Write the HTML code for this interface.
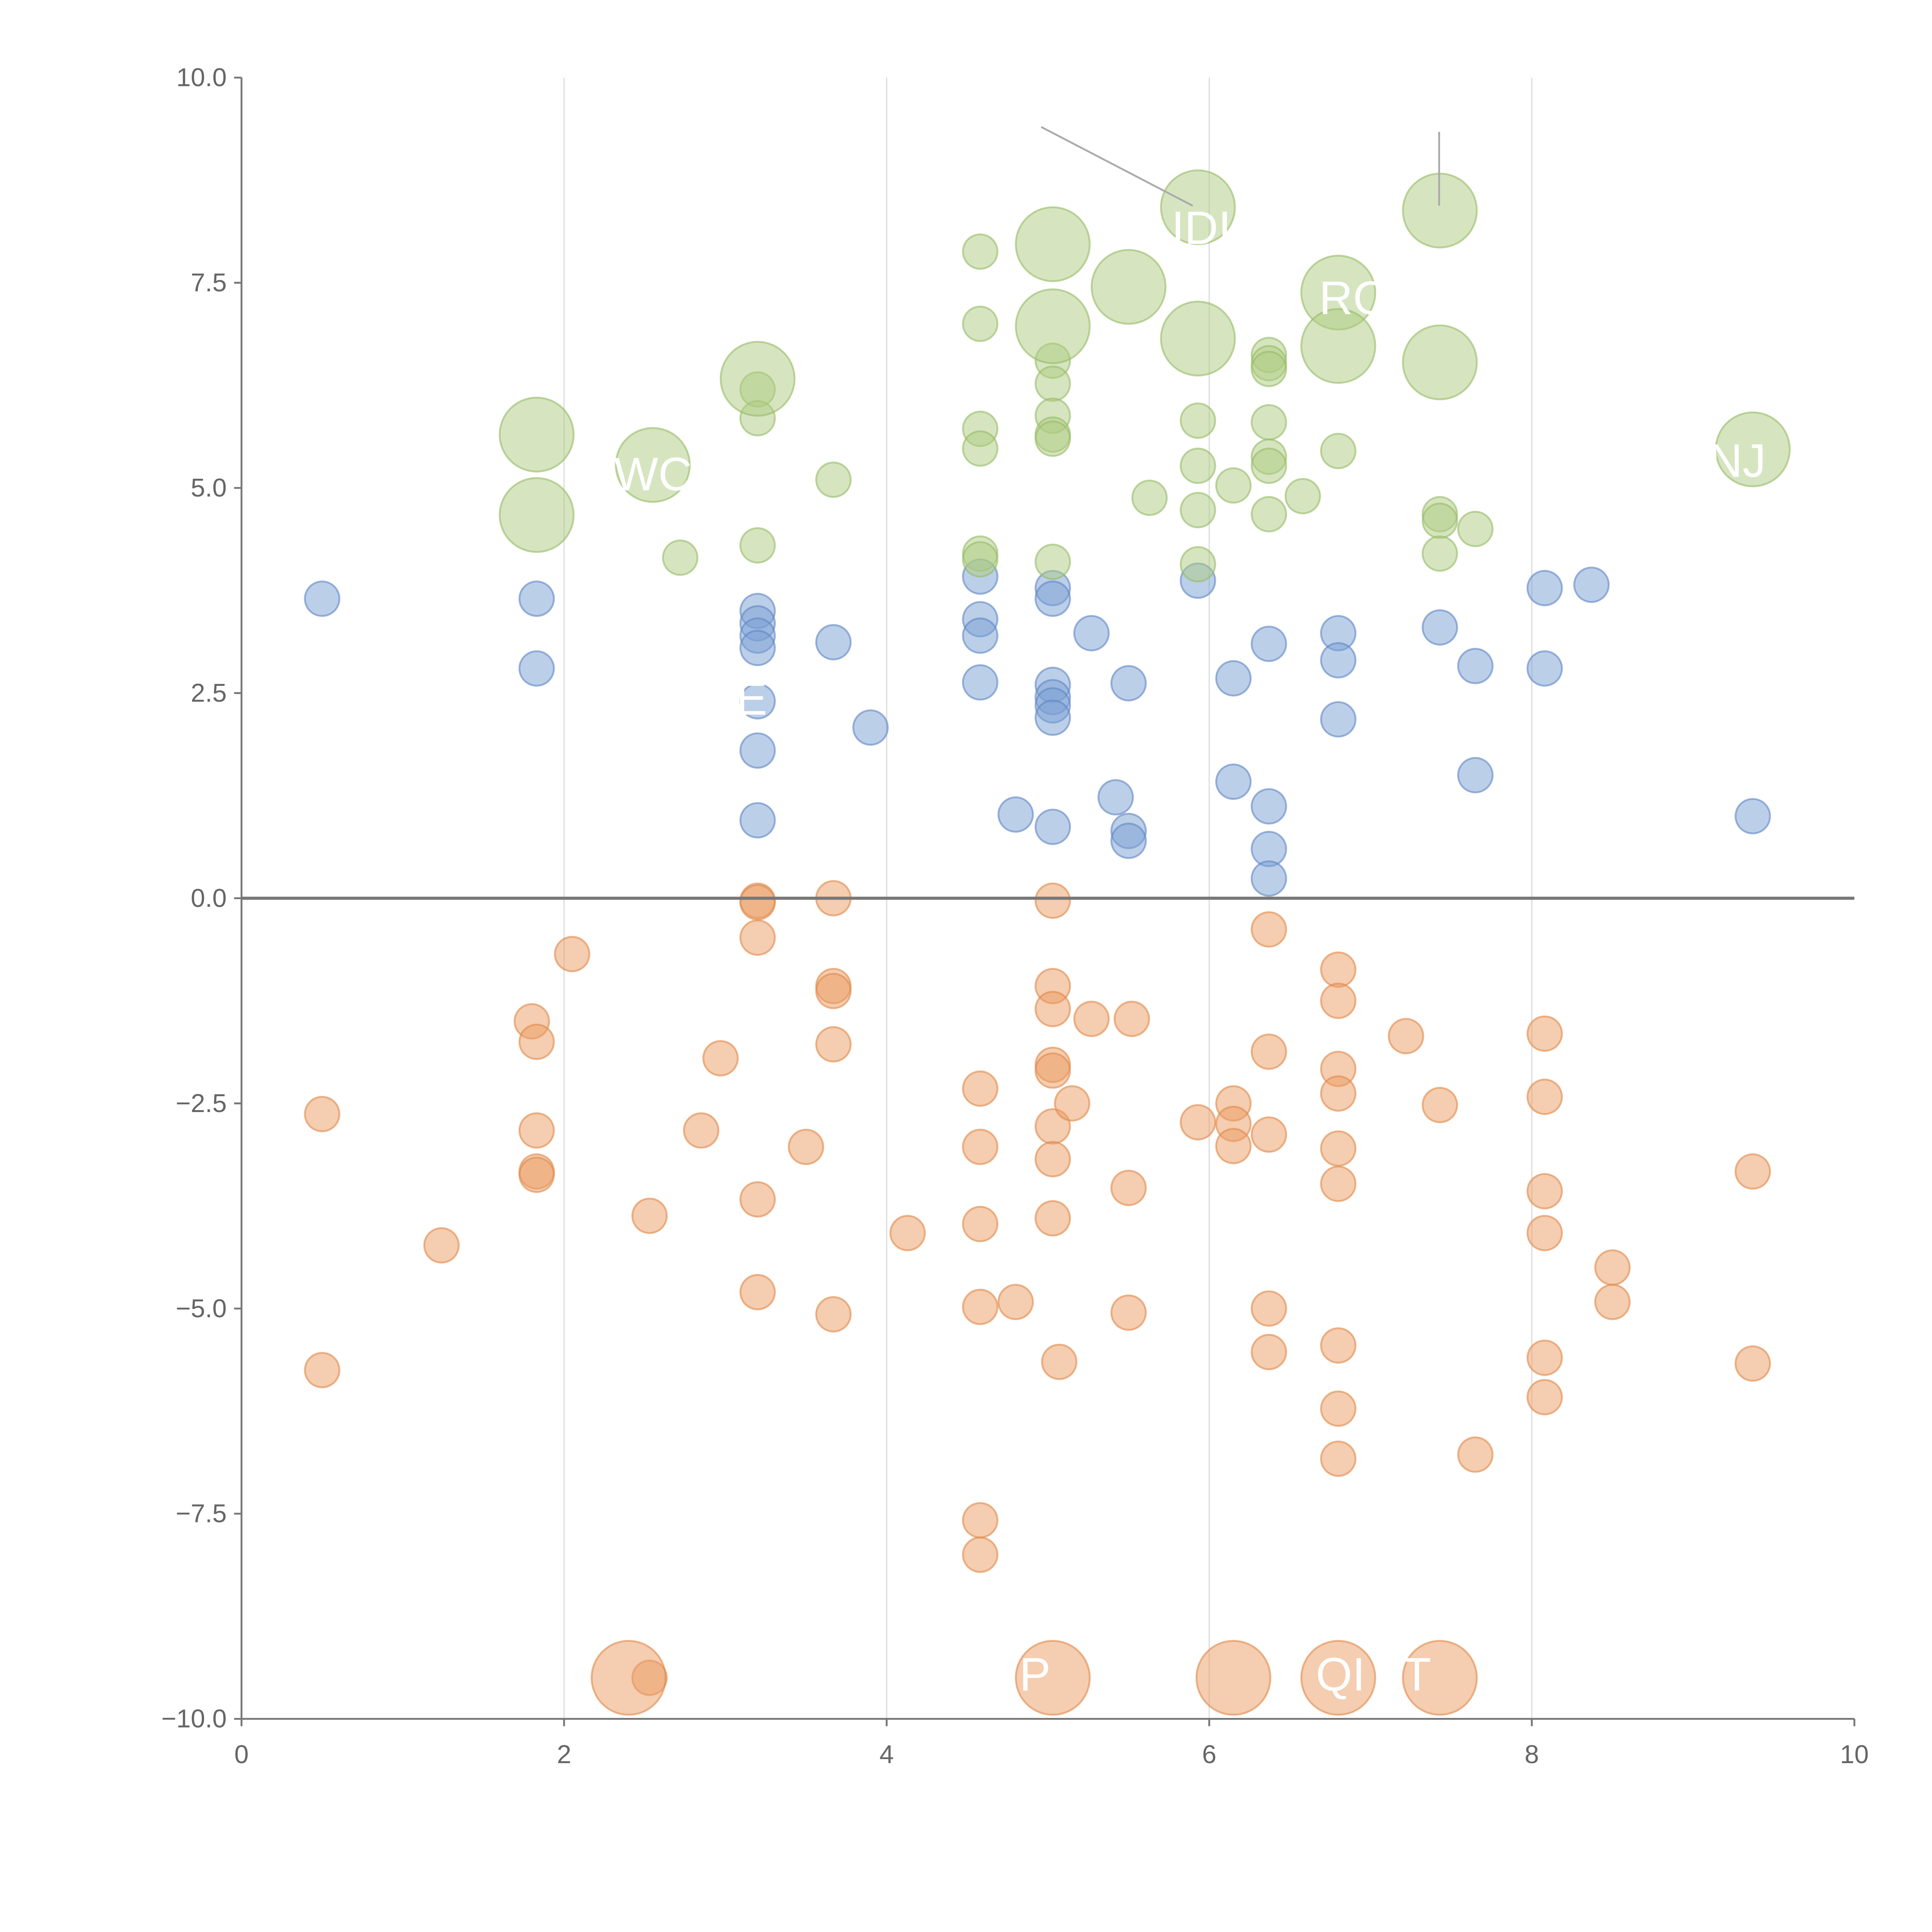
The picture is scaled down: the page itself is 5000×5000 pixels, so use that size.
<!DOCTYPE html>
<html><head><meta charset="utf-8"><style>
html,body{margin:0;padding:0;background:#fff;}
svg{display:block;font-family:"Liberation Sans",sans-serif;}
</style></head><body>
<svg id="chart" width="5000" height="5000" viewBox="0 0 1568 1568" xmlns="http://www.w3.org/2000/svg">
<g id="grid"></g>
<g id="marks"></g>
<g id="axes"></g>
<g id="annot"></g>
</svg>
<script>
const xTicks=[0,2,4,6,8,10];
const yTicks=[10,7.5,5,2.5,0,-2.5,-5,-7.5,-10];
const blueX=[0.5,1.83,1.83,3.2,3.2,3.2,3.2,3.2,3.2,3.2,3.67,3.9,4.58,4.58,4.58,4.58,4.8,5.03,5.03,5.03,5.03,5.03,5.03,5.03,5.27,5.42,5.5,5.5,5.5,5.93,6.15,6.15,6.37,6.37,6.37,6.37,6.8,6.8,6.8,7.43,7.65,7.65,8.08,8.08,8.37,9.37];
const blueY=[3.65,3.65,2.8,3.5,3.35,3.2,3.05,2.4,1.8,0.95,3.12,2.08,3.92,3.4,3.2,2.63,1.02,3.78,3.65,2.6,2.45,2.35,2.2,0.87,3.23,1.23,2.62,0.82,0.7,3.87,2.68,1.42,3.1,1.12,0.6,0.24,3.23,2.9,2.18,3.3,2.83,1.5,3.78,2.8,3.82,1.0];
const orangeX=[0.5,0.5,1.24,1.8,1.83,1.83,1.83,1.83,2.05,2.53,2.85,2.97,3.2,3.2,3.2,3.2,3.2,3.5,3.67,3.67,3.67,3.67,3.67,4.13,4.58,4.58,4.58,4.58,4.58,4.58,4.8,5.03,5.03,5.03,5.03,5.03,5.03,5.03,5.03,5.07,5.15,5.27,5.5,5.5,5.52,5.93,6.15,6.15,6.15,6.37,6.37,6.37,6.37,6.37,6.8,6.8,6.8,6.8,6.8,6.8,6.8,6.8,6.8,7.22,7.43,7.65,8.08,8.08,8.08,8.08,8.08,8.08,8.5,8.5,9.37,9.37,2.53];
const orangeY=[-2.63,-5.75,-4.23,-1.5,-1.75,-2.83,-3.33,-3.37,-0.68,-3.87,-2.83,-1.95,-0.03,-0.05,-0.48,-3.67,-4.8,-3.03,0,-1.07,-1.13,-1.78,-5.07,-4.08,-2.32,-3.03,-3.97,-4.98,-7.58,-8.0,-4.92,-0.03,-1.07,-1.35,-2.03,-2.1,-2.78,-3.18,-3.9,-5.65,-2.5,-1.47,-3.53,-5.05,-1.47,-2.73,-2.5,-2.75,-3.02,-0.38,-1.87,-2.88,-5.0,-5.53,-0.87,-1.25,-2.08,-2.38,-3.05,-3.48,-5.45,-6.22,-6.83,-1.68,-2.52,-6.78,-1.65,-2.42,-3.57,-4.08,-5.6,-6.08,-4.5,-4.92,-3.33,-5.67,-9.5];
const orangeBigX=[2.4,5.03,6.15,6.8,7.43];
const orangeBigY=[-9.5,-9.5,-9.5,-9.5,-9.5];
const greenX=[2.72,3.2,3.2,3.2,3.67,4.58,4.58,4.58,4.58,4.58,4.58,5.03,5.03,5.03,5.03,5.03,5.03,5.63,5.93,5.93,5.93,5.93,6.15,6.37,6.37,6.37,6.37,6.37,6.37,6.37,6.58,6.8,7.43,7.43,7.43,7.65];
const greenY=[4.15,6.2,5.85,4.3,5.1,7.88,7.0,5.72,5.48,4.2,4.13,6.55,6.27,5.88,5.65,5.6,4.1,4.88,5.82,5.27,4.73,4.07,5.03,6.62,6.52,6.45,5.8,5.38,5.27,4.68,4.9,5.45,4.68,4.6,4.2,4.5];
const greenBigX=[1.83,1.83,2.55,3.2,5.03,5.03,5.5,5.93,5.93,6.8,6.8,7.43,7.43,9.37];
const greenBigY=[5.65,4.67,5.28,6.33,7.97,6.97,7.45,8.42,6.82,7.38,6.73,8.38,6.53,5.47];

const X0=196,X1=1505,Y0=1395,Y1=63;
const sx=v=>X0+(v/10)*(X1-X0);
const sy=v=>Y0-((v+10)/20)*(Y0-Y1);
const NS="http://www.w3.org/2000/svg";
function mk(tag,attrs,parent){const e=document.createElementNS(NS,tag);for(const k in attrs)e.setAttribute(k,attrs[k]);parent.appendChild(e);return e;}
const grid=document.getElementById('grid'),marks=document.getElementById('marks'),axes=document.getElementById('axes'),annot=document.getElementById('annot');

[2,4,6,8].forEach(v=>{const l=mk('line',{x1:sx(v),x2:sx(v),y1:Y1,y2:Y0,stroke:'#ddd','stroke-width':1},grid);

});

function draw(xs,ys,r,fill,stroke,name){xs.forEach((x,i)=>{const c=mk('circle',{cx:sx(x),cy:sy(ys[i]),r:r,fill:fill,'fill-opacity':0.5,stroke:stroke,'stroke-opacity':0.6,'stroke-width':1.5},marks);

});}
draw(blueX,blueY,14,'#7a9fd4','#5f86c4','blue-point');
draw(orangeX,orangeY,14,'#eb9c62','#e0884a','orange-point');
draw(greenX,greenY,14,'#adcc82','#96bb66','green-point');
draw(greenBigX,greenBigY,30,'#adcc82','#96bb66','green-bubble');
draw(orangeBigX,orangeBigY,30,'#eb9c62','#e0884a','orange-bubble');

const zl=mk('line',{x1:X0,x2:X1,y1:sy(0),y2:sy(0),stroke:'#777','stroke-width':2.5},axes);


const ya=mk('line',{x1:X0,x2:X0,y1:Y1,y2:Y0,stroke:'#777','stroke-width':1.5},axes);


const xa=mk('line',{x1:X0,x2:X1,y1:Y0,y2:Y0,stroke:'#777','stroke-width':1.5},axes);


xTicks.forEach(v=>{mk('line',{x1:sx(v),x2:sx(v),y1:Y0,y2:Y0+6,stroke:'#777','stroke-width':1.5},axes);
const t=mk('text',{x:sx(v),y:Y0+36,'text-anchor':'middle','font-size':21,fill:'#666'},axes);t.textContent=v;

});
yTicks.forEach(v=>{mk('line',{x1:X0-6,x2:X0,y1:sy(v),y2:sy(v),stroke:'#777','stroke-width':1.5},axes);
const t=mk('text',{x:X0-12,y:sy(v)+7,'text-anchor':'end','font-size':21,fill:'#666'},axes);t.textContent=(v<0?'\u2212'+(-v).toFixed(1):v.toFixed(1));

});

[[845,103,968,167],[1168,107,1168,167]].forEach(s=>{const l=mk('line',{x1:s[0],y1:s[1],x2:s[2],y2:s[3],stroke:'#aaa','stroke-width':1.5},annot);

});
[['IDI',975,198],['RC',1098,255],['WC',530,398],['NJ',1410,387],['E',610,580],['P',840,1372],['QI',1088,1372],['T',1150,1372]].forEach(a=>{const t=mk('text',{x:a[1],y:a[2],'text-anchor':'middle','font-size':38,fill:'#fff'},annot);t.textContent=a[0];

});
</script>
</body></html>
